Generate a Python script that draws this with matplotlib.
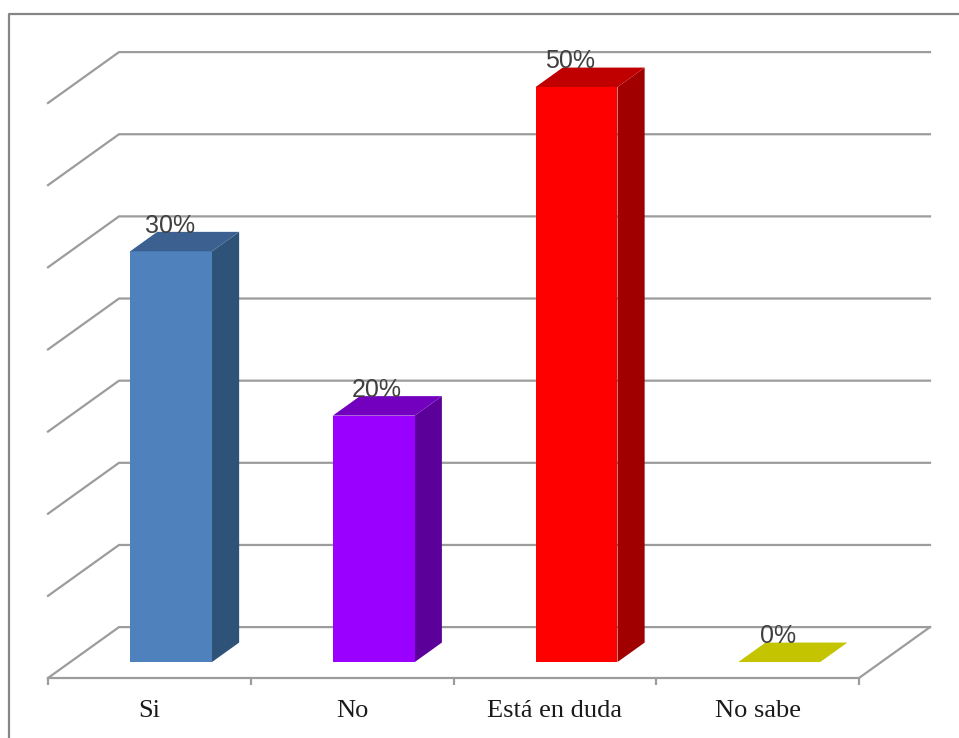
import matplotlib
matplotlib.use('Agg')
import matplotlib.pyplot as plt
from matplotlib.lines import Line2D
from matplotlib.patches import Polygon

W, H = 959, 738

categories = ['Si', 'No', 'Está en duda', 'No sabe']
# bar heights read in gridline steps: they do not follow the printed percents
heights = [5, 3, 7, 0]
labels = ['30%', '20%', '50%', '0%']
front_colors = ['#4F81BD', '#9900FF', '#FF0000', '#C4C400']
side_colors = ['#2F5278', '#5C009A', '#A00000', '#C4C400']
top_colors = ['#3C6190', '#7300BF', '#C00000', '#C4C400']
label_dx = [-1, 2, -5, -1]  # labels are not quite centred in the original

n_steps = 7
bar_width = 0.404
GRID = '#9C9C9C'
LW = 1.6

# oblique depth of the floor, in data units (x cats, y steps)
DX = 71 / 202.75
DY = 51 / 82.3
D_FRONT = 16 / 51
D_BACK = 35.5 / 51


def proj(x, y, d):
    return (x + d * DX, y + d * DY)


fig = plt.figure(figsize=(W / 100, H / 100), dpi=100)
ax = fig.add_axes([48 / W, (H - 678) / H, 811 / W, 575 / H])
ax.set_xlim(0, len(categories))
ax.set_ylim(0, n_steps)
ax.patch.set_visible(False)

for s in ['top', 'left', 'right']:
    ax.spines[s].set_visible(False)
ax.spines['bottom'].set_color(GRID)
ax.spines['bottom'].set_linewidth(LW)

ax.set_yticks([])
ax.set_xticks(range(len(categories) + 1))
ax.set_xticklabels([])
ax.set_xticks([i + 0.5 for i in range(len(categories))], minor=True)
ax.set_xticklabels(categories, minor=True, family='Liberation Serif', fontsize=19, color='#1a1a1a')
ax.tick_params(axis='x', which='major', length=5, width=LW, color=GRID, direction='out')
ax.tick_params(axis='x', which='minor', length=0, pad=15.5)

# gridlines: left wall + back wall
for k in range(n_steps + 1):
    pts = [proj(0, k, 0), proj(0, k, 1), proj(len(categories), k, 1)]
    ax.plot([p[0] for p in pts], [p[1] for p in pts], color=GRID, lw=LW, clip_on=False, zorder=1)

# right edge of the floor
pts = [proj(len(categories), 0, 1), proj(len(categories), 0, 0)]
ax.plot([p[0] for p in pts], [p[1] for p in pts], color=GRID, lw=LW, clip_on=False, zorder=1)

for i, h in enumerate(heights):
    x0 = i + 0.497 - bar_width / 2
    x1 = i + 0.497 + bar_width / 2
    front = [proj(x0, 0, D_FRONT), proj(x1, 0, D_FRONT), proj(x1, h, D_FRONT), proj(x0, h, D_FRONT)]
    side = [proj(x1, 0, D_FRONT), proj(x1, 0, D_BACK), proj(x1, h, D_BACK), proj(x1, h, D_FRONT)]
    top = [proj(x0, h, D_FRONT), proj(x1, h, D_FRONT), proj(x1, h, D_BACK), proj(x0, h, D_BACK)]
    if h > 0:
        ax.add_patch(Polygon(side, fc=side_colors[i], ec='none', clip_on=False, zorder=3))
        ax.add_patch(Polygon(front, fc=front_colors[i], ec='none', clip_on=False, zorder=3))
    ax.add_patch(Polygon(top, fc=top_colors[i], ec='none', clip_on=False, zorder=3))
    ax.annotate(labels[i], xy=proj(i + 0.5, h, D_FRONT), xytext=(label_dx[i], 18.5), textcoords='offset points',
                ha='center', va='center', family='Liberation Sans', fontsize=18, color='#404040',
                annotation_clip=False, zorder=5)

# outer chart frame, cut by the image on the right and bottom
fig.add_artist(Line2D([9 / W, 9 / W, 1], [0, (H - 14) / H, (H - 14) / H], color='#868686', lw=1.6))

plt.savefig('out.png', dpi=100)
